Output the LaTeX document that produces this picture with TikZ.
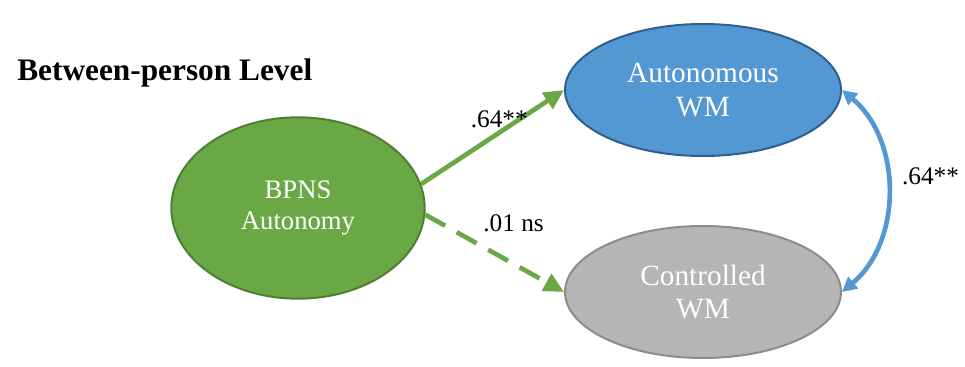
\documentclass[tikz,border=0pt]{standalone}
\usepackage{fontspec}
\setmainfont{Liberation Serif}
\usetikzlibrary{arrows.meta,shapes.geometric}
\definecolor{grn}{RGB}{106,168,69}
\definecolor{grnline}{RGB}{78,128,50}
\definecolor{blu}{RGB}{83,151,211}
\definecolor{bluline}{RGB}{47,95,145}
\definecolor{gry}{RGB}{181,181,181}
\definecolor{gryline}{RGB}{140,140,140}

\begin{document}
\begin{tikzpicture}[x=0.75pt, y=-0.75pt,
	latent/.style={ellipse, draw, line width=1.5pt, text=white, align=center, inner sep=0pt},
	effect/.style={line width=3.5pt, grn, -{Triangle[length=15pt,width=14pt]}}]
	\useasboundingbox (0,0) rectangle (965,367);
	\node[anchor=west, inner sep=0pt, font=\fontsize{23.5}{27}\selectfont\bfseries] (title) at (17,73) {Between-person Level};
	\node[latent, fill=grn, draw=grnline, minimum width=190pt, minimum height=136pt, font=\fontsize{20}{23}\selectfont] (bpns) at (298,208) {BPNS\\Autonomy};
	\node[latent, fill=blu, draw=bluline, minimum width=207pt, minimum height=99pt, font=\fontsize{22}{25}\selectfont] (auto) at (703,90) {Autonomous\\WM};
	\node[latent, fill=gry, draw=gryline, minimum width=207pt, minimum height=99pt, font=\fontsize{22}{25}\selectfont] (ctrl) at (703,292) {Controlled\\WM};
	\draw[effect] (bpns.11) -- node[midway, above=2pt, xshift=5pt, font=\fontsize{19}{22}\selectfont, black] (la) {.64**} (auto.west);
	\draw[effect, dash pattern=on 17pt off 10pt] (bpns.-3) -- node[pos=0.35, above right=2pt, font=\fontsize{19}{22}\selectfont, black] (lb) {.01 ns} (ctrl.west);
	\draw[line width=3.5pt, blu, {Triangle[length=11pt,width=11pt]}-{Triangle[length=11pt,width=11pt]}] (auto.east) to[bend left=50] node[midway, right=6pt, yshift=11pt, font=\fontsize{19}{22}\selectfont, black] (lc) {.64**} (ctrl.east);
\end{tikzpicture}
\end{document}
